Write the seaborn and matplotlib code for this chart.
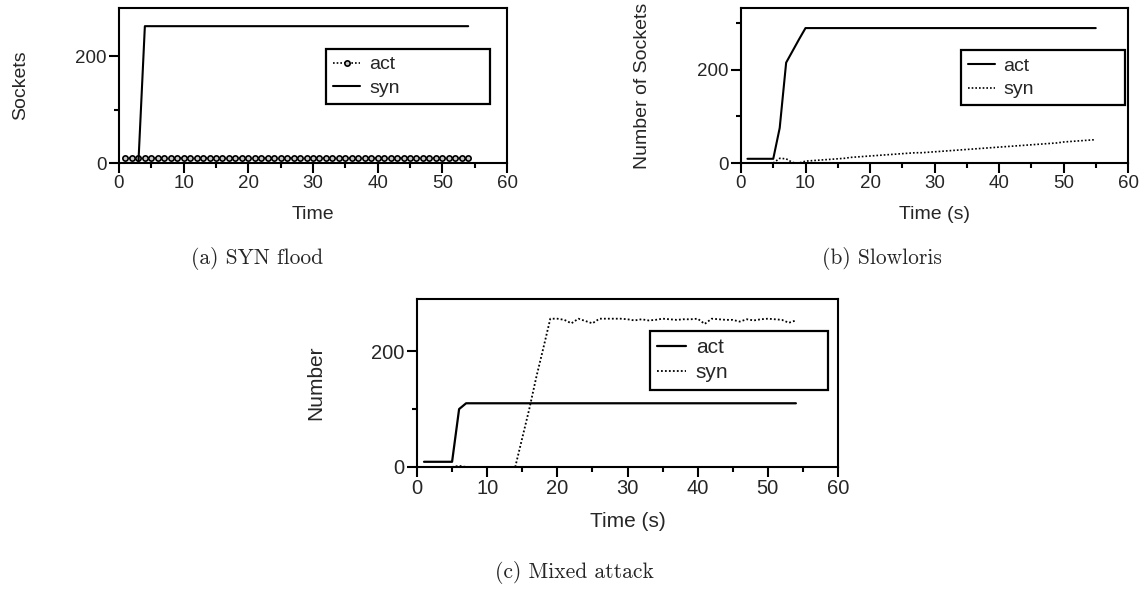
import matplotlib
matplotlib.use("Agg")
import matplotlib.pyplot as plt
import seaborn as sns

# -----------------------------
# Data
# -----------------------------
# (a) SYN flood, t = 1..54 s
t_a = list(range(1, 55))
act_a = [9, 9, 9, 9, 9, 9, 9, 9, 9, 9, 9, 9, 9, 9, 9, 9, 9, 9,
         9, 9, 9, 9, 9, 9, 9, 9, 9, 9, 9, 9, 9, 9, 9, 9, 9, 9,
         9, 9, 9, 9, 9, 9, 9, 9, 9, 9, 9, 9, 9, 9, 9, 9, 9, 9]
syn_a = [0, 0, 0, 256, 256, 256, 256, 256, 256, 256, 256, 256, 256, 256, 256, 256, 256, 256,
         256, 256, 256, 256, 256, 256, 256, 256, 256, 256, 256, 256, 256, 256, 256, 256, 256, 256,
         256, 256, 256, 256, 256, 256, 256, 256, 256, 256, 256, 256, 256, 256, 256, 256, 256, 256]

# (b) Slowloris, t = 1..55 s
t_b = list(range(1, 56))
act_b = [9, 9, 9, 9, 9, 75, 215, 240, 265, 289, 289, 289, 289, 289, 289, 289, 289, 289,
         289, 289, 289, 289, 289, 289, 289, 289, 289, 289, 289, 289, 289, 289, 289, 289, 289, 289,
         289, 289, 289, 289, 289, 289, 289, 289, 289, 289, 289, 289, 289, 289, 289, 289, 289, 289, 289]
syn_b = [0, 0, 0, 0, 0, 10, 9, 1, 0, 4, 5, 6, 7, 8, 9, 10, 12, 13,
         14, 15, 16, 17, 18, 19, 20, 21, 22, 22, 23, 24, 25, 26, 27, 28, 29, 30,
         31, 32, 33, 34, 35, 36, 37, 38, 39, 40, 41, 42, 43, 45, 46, 47, 48, 49, 50]

# (c) Mixed attack, t = 1..54 s
t_c = list(range(1, 55))
act_c = [9, 9, 9, 9, 9, 100, 110, 110, 110, 110, 110, 110, 110, 110, 110, 110, 110, 110,
         110, 110, 110, 110, 110, 110, 110, 110, 110, 110, 110, 110, 110, 110, 110, 110, 110, 110,
         110, 110, 110, 110, 110, 110, 110, 110, 110, 110, 110, 110, 110, 110, 110, 110, 110, 110]
syn_c = [0, 0, 0, 0, 0, 2, 0, 0, 0, 0, 0, 0, 0, 0, 50, 100, 155, 205,
         256, 256, 254, 248, 256, 252, 248, 256, 256, 256, 256, 255, 253, 255, 253, 254, 256, 255,
         254, 255, 255, 256, 247, 256, 255, 254, 254, 251, 255, 253, 255, 256, 255, 254, 249, 253]

captions = ["(a) SYN flood", "(b) Slowloris", "(c) Mixed attack"]

# -----------------------------
# Style
# -----------------------------
sns.set_style("ticks")
plt.rcParams["font.family"] = ["Liberation Sans", "DejaVu Sans"]

W, H = 1147, 591
fig = plt.figure(figsize=(W / 100, H / 100), dpi=100)


def px_axes(left, right, top, bottom):
    return fig.add_axes([left / W, 1 - bottom / H, (right - left) / W, (bottom - top) / H])


DOT = (0, (1, 1.2))


def style_axes(ax, ylim, xlabel, ylabel, minor_y, fs, tfs):
    ax.set_xlim(0, 60)
    ax.set_ylim(*ylim)
    ax.set_xticks([0, 10, 20, 30, 40, 50, 60])
    ax.set_xticks([5, 15, 25, 35, 45, 55], minor=True)
    ax.set_yticks([0, 200])
    ax.set_yticks(minor_y, minor=True)
    for s in ax.spines.values():
        s.set_visible(True)
        s.set_linewidth(1.5)
        s.set_color("black")
    ax.tick_params(which="major", direction="out", length=7, width=1.5, pad=2,
                   labelsize=tfs, color="black", top=False, right=False)
    ax.tick_params(which="minor", direction="out", length=3.6, width=1.5,
                   color="black", top=False, right=False)
    ax.set_xlabel(xlabel, fontsize=fs, labelpad=10)
    ax.set_ylabel(ylabel, fontsize=fs, labelpad=33)


def add_legend(ax, box, fs):
    # box = (x0, y0, w, h) in axes fraction
    leg = ax.legend(loc="upper left", bbox_to_anchor=box, mode="expand", borderaxespad=0,
                    fancybox=False, framealpha=1, edgecolor="black", fontsize=fs,
                    handlelength=1.4, handletextpad=0.45, labelspacing=0.3,
                    borderpad=0.35)
    leg.get_frame().set_linewidth(1.6)
    return leg


# (a)
ax_a = px_axes(119, 507, 8, 163)
sns.lineplot(x=t_a, y=act_a, ax=ax_a, color="black", linestyle=DOT, linewidth=1.2,
             marker="o", markersize=3.8, markerfacecolor="#c8c8c8",
             markeredgecolor="black", markeredgewidth=1.2, label="act")
sns.lineplot(x=t_a, y=syn_a, ax=ax_a, color="black", linewidth=1.5, label="syn")
style_axes(ax_a, (0, 290), "Time", "Sockets", [100], 14, 13.5)
add_legend(ax_a, (0.534, 0.387, 0.423, 0.348), 14)

# (b)
ax_b = px_axes(741, 1128, 8, 163)
sns.lineplot(x=t_b, y=act_b, ax=ax_b, color="black", linewidth=1.5, label="act")
sns.lineplot(x=t_b, y=syn_b, ax=ax_b, color="black", linestyle=DOT, linewidth=1.2, label="syn")
style_axes(ax_b, (0, 332), "Time (s)", "Number of Sockets", [100, 300], 14, 13.5)
add_legend(ax_b, (0.568, 0.39, 0.424, 0.336), 14)

# (c)
ax_c = px_axes(417, 838, 299, 467)
sns.lineplot(x=t_c, y=act_c, ax=ax_c, color="black", linewidth=1.6, label="act")
sns.lineplot(x=t_c, y=syn_c, ax=ax_c, color="black", linestyle=DOT, linewidth=1.3, label="syn")
style_axes(ax_c, (0, 290), "Time (s)", "Number", [100], 15, 14.5)
add_legend(ax_c, (0.553, 0.466, 0.423, 0.345), 15)

# captions (LaTeX-like serif)
fig.text(257 / W, 1 - 258 / H, captions[0], ha="center", va="center",
         fontsize=15.5, family="cmr10")
fig.text(882 / W, 1 - 258 / H, captions[1], ha="center", va="center",
         fontsize=15.5, family="cmr10")
fig.text(574 / W, 1 - 573 / H, captions[2], ha="center", va="center",
         fontsize=15.5, family="cmr10")

fig.savefig("out.png", dpi=100)
